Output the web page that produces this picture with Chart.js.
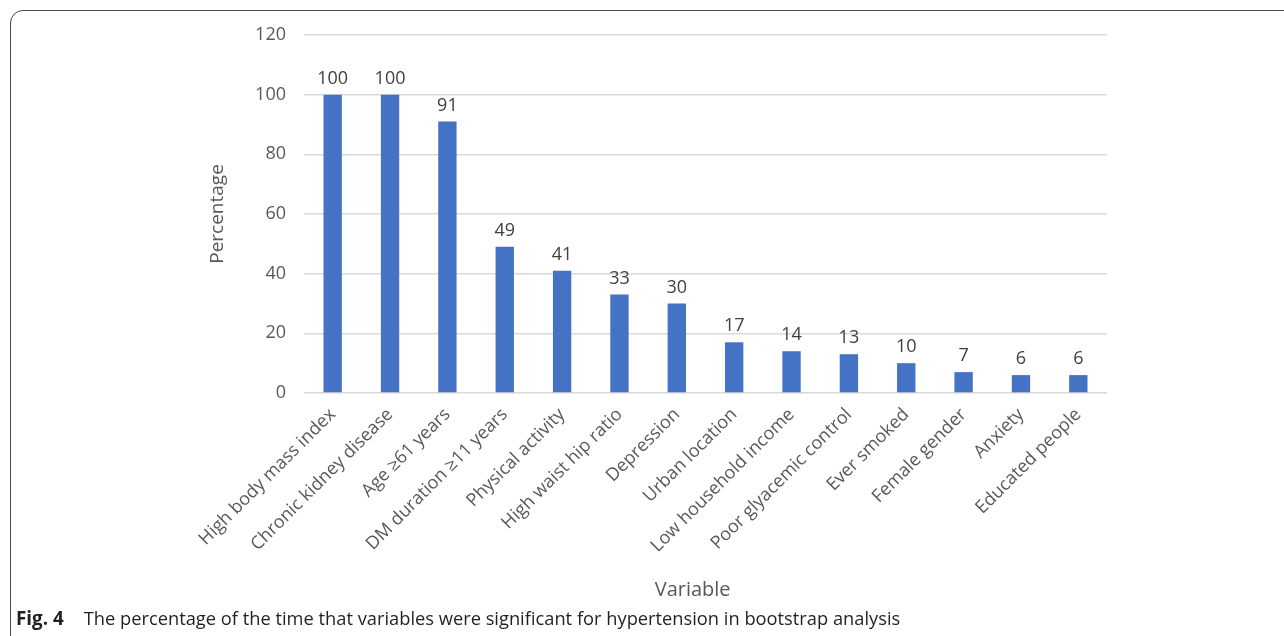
<!DOCTYPE html>
<html>
<head>
<meta charset="utf-8">
<script src="https://cdn.jsdelivr.net/npm/chart.js@4"></script>
<style>
  html,body{margin:0;padding:0;background:#fff;width:1284px;height:636px;overflow:hidden;}
  #frame{position:absolute;left:10px;top:10px;width:1320px;height:700px;border:1.5px solid #4a4a4a;border-radius:13px;box-sizing:border-box;}
  #wrap{position:absolute;left:0;top:0;width:1284px;height:636px;}
  #caption{position:absolute;left:16px;top:605px;font-family:"Open Sans",sans-serif;font-size:18.3px;color:#231f20;white-space:nowrap;}
  #caption b{font-weight:700;display:inline-block;width:63px;font-size:18.8px;}
</style>
</head>
<body>
<div id="frame"></div>
<div id="wrap"><canvas id="c" width="1284" height="636"></canvas></div>
<div id="caption"><b>Fig. 4</b> The percentage of the time that variables were significant for hypertension in bootstrap analysis</div>
<script>
const categories = ["High body mass index","Chronic kidney disease","Age \u226561 years","DM duration \u226511 years","Physical activity","High waist hip ratio","Depression","Urban location","Low household income","Poor glyacemic control","Ever smoked","Female gender","Anxiety","Educated people"];
const percentages = [100,100,91,49,41,33,30,17,14,13,10,7,6,6];
const yTicks = [0,20,40,60,80,100,120];
const xTitle = "Variable";

const extras = {
  id:'extras',
  afterDatasetsDraw(chart){
    const ctx = chart.ctx;
    const meta = chart.getDatasetMeta(0);
    ctx.save();
    ctx.font = '18px "Open Sans", sans-serif';
    ctx.fillStyle = '#404040';
    ctx.textAlign = 'center';
    ctx.textBaseline = 'bottom';
    meta.data.forEach((bar,i)=>{
      ctx.fillText(String(percentages[i]), bar.x, bar.y - 7);
    });
    const a = chart.chartArea;
    ctx.font = '20px "Open Sans", sans-serif';
    ctx.fillStyle = '#595959';
    ctx.textBaseline = 'middle';
    ctx.fillText(xTitle, a.left + a.width*0.484, 590);
    ctx.restore();
  }
};

Chart.defaults.font.family = '"Open Sans", sans-serif';
Chart.defaults.color = '#595959';

new Chart(document.getElementById('c'), {
  type:'bar',
  data:{
    labels:categories,
    datasets:[{data:percentages, backgroundColor:'#4472C4', borderWidth:0, barPercentage:0.32, categoryPercentage:1}]
  },
  options:{
    responsive:false,
    animation:false,
    devicePixelRatio:1,
    layout:{padding:{left:202,right:177,top:35,bottom:31}},
    plugins:{legend:{display:false},tooltip:{enabled:false}},
    scales:{
      x:{
        grid:{display:false,drawTicks:false},
        border:{display:false},
        ticks:{minRotation:45,maxRotation:45,padding:11,font:{size:18},color:'#595959',autoSkip:false},
        afterFit(s){s.height=212;}
      },
      y:{
        min:0,max:120,
        afterBuildTicks(s){s.ticks = yTicks.map(v=>({value:v}));},
        grid:{color:'#d9d9d9',lineWidth:1.4,drawTicks:false},
        border:{display:false},
        ticks:{padding:18,font:{size:18},color:'#595959'},
        title:{display:true,text:'Percentage',font:{size:19},color:'#595959',padding:{top:4,bottom:4}},
        afterFit(s){s.width=102;}
      }
    }
  },
  plugins:[extras]
});
</script>
</body>
</html>
